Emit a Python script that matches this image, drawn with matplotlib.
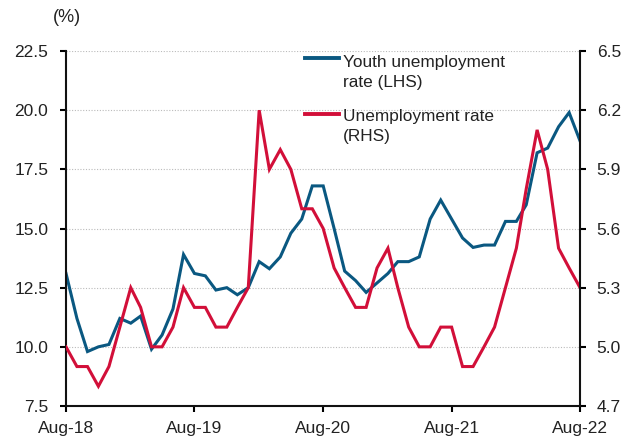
import matplotlib
matplotlib.use("Agg")
import matplotlib.pyplot as plt
import pandas as pd

plt.rcParams['font.family'] = ['Liberation Sans', 'DejaVu Sans']

# monthly, Aug-18 .. Aug-22
months = pd.date_range('2018-08-01', '2022-08-01', freq='MS')

youth = [13.1, 11.2, 9.8, 10.0, 10.1,
         11.2, 11.0, 11.3, 9.9, 10.5, 11.6, 13.9, 13.1, 13.0, 12.4, 12.5, 12.2,
         12.5, 13.6, 13.3, 13.8, 14.8, 15.4, 16.8, 16.8, 15.0, 13.2, 12.8, 12.3,
         12.7, 13.1, 13.6, 13.6, 13.8, 15.4, 16.2, 15.4, 14.6, 14.2, 14.3, 14.3,
         15.3, 15.3, 16.0, 18.2, 18.4, 19.3, 19.9, 18.7]

unemp = [5.0, 4.9, 4.9, 4.8, 4.9,
         5.1, 5.3, 5.2, 5.0, 5.0, 5.1, 5.3, 5.2, 5.2, 5.1, 5.1, 5.2,
         5.3, 6.2, 5.9, 6.0, 5.9, 5.7, 5.7, 5.6, 5.4, 5.3, 5.2, 5.2,
         5.4, 5.5, 5.3, 5.1, 5.0, 5.0, 5.1, 5.1, 4.9, 4.9, 5.0, 5.1,
         5.3, 5.5, 5.8, 6.1, 5.9, 5.5, 5.4, 5.3]

left_ticks = [7.5, 10.0, 12.5, 15.0, 17.5, 20.0, 22.5]
right_ticks = [4.7, 5.0, 5.3, 5.6, 5.9, 6.2, 6.5]
x_ticks = pd.to_datetime(['2018-08-01', '2019-08-01', '2020-08-01', '2021-08-01', '2022-08-01'])
x_labels = ['Aug-18', 'Aug-19', 'Aug-20', 'Aug-21', 'Aug-22']

blue = '#0a5881'
red = '#d20f39'
txt = '#222222'
fs = 12.5

fig = plt.figure(figsize=(6.27, 4.44), dpi=100)
ax = fig.add_axes([0.1053, 0.0856, 0.8198, 0.7995])
ax2 = ax.twinx()

ax.plot(months, youth, color=blue, lw=2.2, solid_joinstyle='miter')
ax2.plot(months, unemp, color=red, lw=2.2, solid_joinstyle='miter')

ax.set_ylim(7.5, 22.5)
ax2.set_ylim(4.7, 6.5)
ax.set_xlim(months[0], months[-1])
ax.set_yticks(left_ticks)
ax.set_yticklabels([f'{v:.1f}' for v in left_ticks])
ax2.set_yticks(right_ticks)
ax2.set_yticklabels([f'{v:.1f}' for v in right_ticks])
ax.set_xticks(x_ticks)
ax.set_xticklabels(x_labels)

ax.grid(axis='y', color='#bbbbbb', linestyle=(0, (1, 1.5)), lw=0.8)
ax.set_axisbelow(True)

for a in (ax, ax2):
    a.spines['top'].set_visible(False)
    for s in a.spines.values():
        s.set_linewidth(1.5)
        s.set_color('#111111')
ax2.spines['left'].set_visible(False)
ax2.spines['bottom'].set_visible(False)
ax.spines['right'].set_visible(False)

ax.tick_params(axis='y', direction='out', length=4.3, width=1.5, pad=8.5,
               labelsize=fs, labelcolor=txt)
ax.tick_params(axis='x', direction='out', length=4.3, width=1.5, pad=6.5,
               labelsize=fs, labelcolor=txt)
ax2.tick_params(axis='y', direction='out', length=4, width=1.5, pad=8,
                labelsize=fs, labelcolor=txt)

fig.text(0.107, 0.96, '(%)', ha='center', va='center', fontsize=13, color=txt)

# legend, handle aligned to the first text line
leg = [(blue, 'Youth unemployment\nrate (LHS)', 0.980, 0.990),
       (red, 'Unemployment rate\n(RHS)', 0.8225, 0.838)]
for col, lab, yy, ytop in leg:
    ax.plot([0.465, 0.531], [yy, yy], color=col, lw=2.8,
            transform=ax.transAxes, clip_on=False)
    ax.text(0.538, ytop, lab, transform=ax.transAxes, ha='left', va='top',
            fontsize=12.4, color=txt, linespacing=1.43)

fig.savefig('out.png', dpi=100)
